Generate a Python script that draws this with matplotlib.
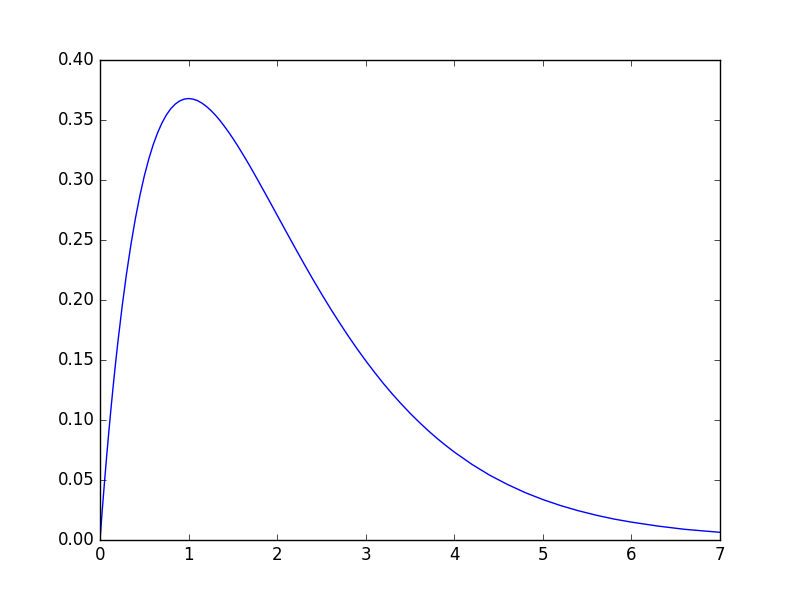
import matplotlib
matplotlib.use("Agg")
import matplotlib.pyplot as plt

plt.style.use("classic")

x_vals = [0.0, 0.025, 0.05, 0.075, 0.1, 0.125, 0.15, 0.175, 0.2, 0.25, 0.3, 0.35,
          0.4, 0.45, 0.5, 0.55, 0.6, 0.65, 0.7, 0.75, 0.8, 0.85, 0.9, 0.95, 1.0,
          1.05, 1.1, 1.15, 1.2, 1.25, 1.3, 1.35, 1.4, 1.45, 1.5, 1.55, 1.6, 1.65,
          1.7, 1.75, 1.8, 1.9, 2.0, 2.1, 2.2, 2.3, 2.4,
          2.5, 2.6, 2.7, 2.8, 2.9, 3.0, 3.1, 3.2, 3.3, 3.4, 3.5, 3.6, 3.7, 3.8,
          3.9, 4.0, 4.2, 4.4, 4.6, 4.8, 5.0, 5.2, 5.4, 5.6, 5.8, 6.0, 6.3, 6.6, 7.0]
y_vals = [0.0, 0.0244, 0.0476, 0.0696, 0.0905, 0.1103, 0.1291, 0.1469, 0.1637,
          0.1947, 0.2222, 0.2466, 0.2681, 0.2869, 0.3033, 0.3173, 0.3293, 0.3393,
          0.3476, 0.3543, 0.3595, 0.3633, 0.3659, 0.3674, 0.3679, 0.3674, 0.3662,
          0.3641, 0.3614, 0.3581, 0.3543, 0.3500, 0.3452, 0.3401, 0.3347, 0.3290,
          0.3230, 0.3169, 0.3106, 0.3041, 0.2975, 0.2842, 0.2707, 0.2572, 0.2438,
          0.2306, 0.2177, 0.2052, 0.1931, 0.1815, 0.1703, 0.1596, 0.1494, 0.1397,
          0.1304, 0.1217, 0.1135, 0.1057, 0.0984, 0.0915, 0.0850, 0.0790, 0.0733,
          0.0630, 0.0540, 0.0463, 0.0395, 0.0337, 0.0287, 0.0244, 0.0207, 0.0175,
          0.0149, 0.0116, 0.0089, 0.0064]

fig = plt.figure(figsize=(8, 6), dpi=100)
ax = fig.add_subplot(111)
ax.plot(x_vals, y_vals, color="b", linewidth=1)
ax.set_xlim(0, 7)
ax.set_ylim(0, 0.40)
fig.savefig("out.png", dpi=100)
